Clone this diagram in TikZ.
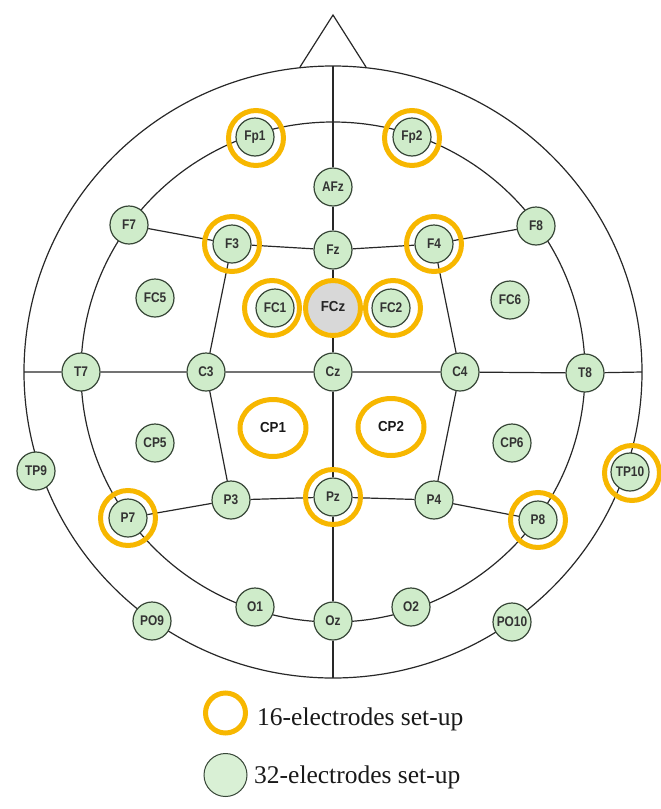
\documentclass[tikz,border=0pt]{standalone}
\usepackage{fontspec}
\setmainfont{Liberation Serif}
\newfontfamily\elfont[FakeStretch=0.85]{Liberation Sans}
\newfontfamily\cpfont[FakeStretch=0.92]{Liberation Sans}
\usetikzlibrary{shapes.geometric}
\definecolor{elgreen}{RGB}{207,236,202}
\definecolor{elline}{RGB}{55,70,55}
\definecolor{ringor}{RGB}{247,183,0}
\definecolor{wirec}{RGB}{40,40,40}
\definecolor{fczgrey}{RGB}{216,216,216}
\begin{document}
\begin{tikzpicture}[x=1pt,y=-1pt,
  elec/.style={circle,draw=elline,fill=elgreen,line width=1.2pt,minimum size=38pt,inner sep=0pt,
    font=\elfont\bfseries\fontsize{14}{14}\selectfont,text=black!80},
  ring/.style={circle,draw=ringor,line width=5pt,minimum size=55pt,inner sep=0pt},
  ringell/.style={ellipse,draw=ringor,line width=5pt,minimum width=66pt,minimum height=57pt,inner sep=0pt,
    font=\cpfont\bfseries\fontsize{14.5}{14.5}\selectfont,text=black!90},
  wire/.style={draw=wirec,line width=1.2pt},
  legtext/.style={anchor=base west,inner sep=0pt,font=\fontsize{25.5}{26}\selectfont,text=black!90}]
\useasboundingbox (0,0) rectangle (661,809);
% head outline
\coordinate (hc) at (333,372);
\draw[wire] (hc) ellipse [x radius=309pt, y radius=306pt];
\draw[wire] (hc) ellipse [x radius=252pt, y radius=250pt];
\coordinate (noseL) at (300,67);
\coordinate (noseT) at (333,15);
\coordinate (noseR) at (366,67);
\draw[wire] (noseL) -- (noseT) -- (noseR);
\coordinate (nas) at (333,66);
\coordinate (inion) at (333,678);
\coordinate (lpa) at (24,372);
\coordinate (rpa) at (642,372);
% electrodes
\node[elec] (Fp1) at (255,137) {Fp1};
\node[elec] (Fp2) at (412,137) {Fp2};
\node[elec] (AFz) at (333,187) {AFz};
\node[elec] (F7) at (129,225) {F7};
\node[elec] (F3) at (232,244) {F3};
\node[elec] (Fz) at (333,250) {Fz};
\node[elec] (F4) at (434,244) {F4};
\node[elec] (F8) at (536,226) {F8};
\node[elec] (FC5) at (155,298) {FC5};
\node[elec] (FC1) at (275,308) {FC1};
\node[circle,fill=fczgrey,minimum size=52pt,inner sep=0pt,font=\cpfont\bfseries\fontsize{14.5}{14.5}\selectfont,text=black!85] (FCz) at (333,307) {FCz};
\node[elec] (FC2) at (391,308) {FC2};
\node[elec] (FC6) at (510,300) {FC6};
\node[elec] (T7) at (81,372) {T7};
\node[elec] (C3) at (206,372) {C3};
\node[elec] (Cz) at (333,372) {Cz};
\node[elec] (C4) at (460,372) {C4};
\node[elec] (T8) at (585,373) {T8};
\node[elec] (CP5) at (155,443) {CP5};
\node[elec] (CP6) at (512,443) {CP6};
\node[elec] (TP9) at (36,471) {TP9};
\node[elec] (TP10) at (630,472) {TP10};
\node[elec] (P7) at (128,518) {P7};
\node[elec] (P3) at (231,500) {P3};
\node[elec] (Pz) at (333,497) {Pz};
\node[elec] (P4) at (434,500) {P4};
\node[elec] (P8) at (538,520) {P8};
\node[elec] (PO9) at (152,621) {PO9};
\node[elec] (O1) at (255,607) {O1};
\node[elec] (Oz) at (333,621) {Oz};
\node[elec] (O2) at (411,607) {O2};
\node[elec] (PO10) at (512,622) {PO10};
% connectors
\draw[wire] (nas) -- (AFz) -- (Fz) -- (FCz) -- (Cz) -- (Pz) -- (Oz) -- (inion);
\draw[wire] (lpa) -- (T7) -- (C3) -- (Cz) -- (C4) -- (T8) -- (rpa);
\draw[wire] (F7) -- (F3) -- (Fz) -- (F4) -- (F8);
\draw[wire] (P7) -- (P3) -- (Pz) -- (P4) -- (P8);
\draw[wire] (F3) -- (C3) -- (P3);
\draw[wire] (F4) -- (C4) -- (P4);
% 16-electrode rings
\node[ring] (rFp1) at (256,138) {};
\node[ring] (rFp2) at (412,138) {};
\node[ring] (rF3) at (232,244) {};
\node[ring] (rF4) at (434,244) {};
\node[ring] (rFC1) at (272,308) {};
\node[ring] (rFCz) at (333,308) {};
\node[ring] (rFC2) at (393,308) {};
\node[ringell] (CP1) at (273,428) {CP1};
\node[ringell] (CP2) at (391,427) {CP2};
\node[ring] (rP7) at (128,518) {};
\node[ring] (rPz) at (333,497) {};
\node[ring] (rP8) at (538,520) {};
\node[ring] (rTP10) at (632,473) {};
% legend
\node[ring,minimum size=40pt] (legR) at (225.5,713) {};
\node[legtext] (legT1) at (257,725) {16-electrodes set-up};
\node[circle,draw=elline,fill=elgreen!80!white,line width=1pt,minimum size=43pt,inner sep=0pt] (legG) at (225.5,775) {};
\node[legtext] (legT2) at (254,783) {32-electrodes set-up};
\end{tikzpicture}
\end{document}
